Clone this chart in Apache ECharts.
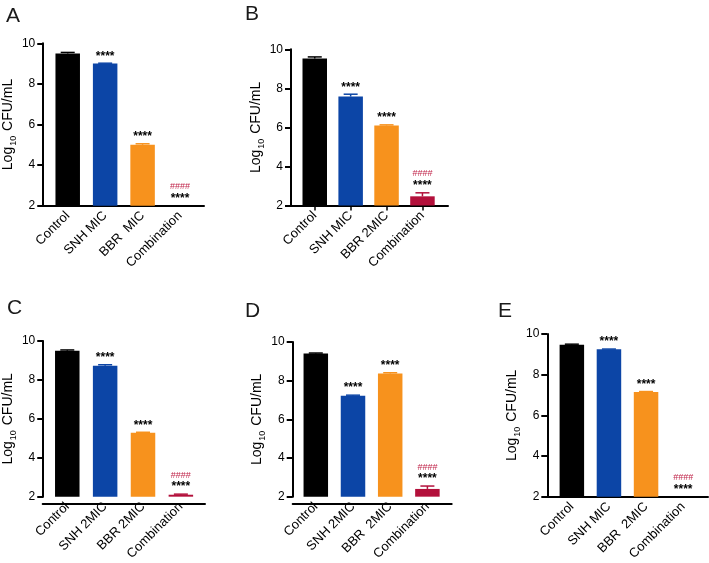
<!DOCTYPE html>
<html>
<head>
<meta charset="utf-8">
<script src="https://cdn.jsdelivr.net/npm/echarts@6/dist/echarts.min.js"></script>
<style>html,body{margin:0;padding:0;background:#fff}#c{width:709px;height:563px}</style>
</head>
<body>
<div id="c"></div>
<script>
// ---- data ----
const catsA = ['Control', 'SNH MIC', 'BBR  MIC', 'Combination'];
const catsB = ['Control', 'SNH MIC', 'BBR 2MIC', 'Combination'];
const catsC = ['Control', 'SNH 2MIC', 'BBR 2MIC', 'Combination'];
const catsD = ['Control', 'SNH 2MIC', 'BBR  2MIC', 'Combination'];
const catsE = ['Control', 'SNH MIC', 'BBR  2MIC', 'Combination'];

const meanA = [9.5, 9.0, 5.0, 2.0];
const errA  = [0.05, 0.02, 0.05, 0];
const meanB = [9.53, 7.58, 6.1, 2.47];
const errB  = [0.08, 0.12, 0.03, 0.18];
const meanC = [9.5, 8.73, 5.28, 2.1];
const errC  = [0.04, 0.05, 0.03, 0.03];
const meanD = [9.4, 7.22, 8.37, 2.4];
const errD  = [0.03, 0.03, 0.04, 0.15];
const meanE = [9.47, 9.25, 7.15, 2.0];
const errE  = [0.03, 0.01, 0.02, 0];

const stars  = ['', '****', '****', '****'];
const hashes = ['', '', '', '####'];
const yTicks = [2, 4, 6, 8, 10];
const panelLetters = ['A', 'B', 'C', 'D', 'E'];

// ---- styling / layout ----
const colors = ['#000000', '#0c45a6', '#f7921d', '#b3103b'];
const FONT = 'Liberation Sans, Arial, Helvetica, sans-serif';

const layouts = [
  {axisX: 43,    top: 43.3, bottom: 205.7, band: 48.75, step: 37.5, end: 204,   ticks: false, lx: 1,   ly: 1},
  {axisX: 291,   top: 49.3, bottom: 205.5, band: 296.8, step: 35.9, end: 448,   ticks: true,  lx: 240, ly: -1},
  {axisX: 42.7,  top: 341,  bottom: 504,   band: 47.8,  step: 38,   end: 205,   ticks: false, lx: 2,   ly: 293},
  {axisX: 292.7, top: 342,  bottom: 503.7, band: 297.2, step: 37.2, end: 451.7, ticks: false, lx: 240, ly: 296},
  {axisX: 547.3, top: 334,  bottom: 496.7, band: 553.3, step: 37.1, end: 708,   ticks: false, lx: 493, ly: 296}
];
const panelData = [
  [catsA, meanA, errA], [catsB, meanB, errB], [catsC, meanC, errC],
  [catsD, meanD, errD], [catsE, meanE, errE]
];

const grid = [], xAxis = [], yAxis = [], series = [], title = [];

layouts.forEach((L, p) => {
  const [cats, mean, err] = panelData[p];
  const h = L.bottom - L.top;
  const gBar = grid.length;
  grid.push({left: L.band, top: L.top, width: L.step * 4, height: h});
  const gLine = grid.length;
  grid.push({left: L.axisX, top: L.top, width: L.end - L.axisX, height: h});

  title.push({text: panelLetters[p], left: L.lx, top: L.ly,
    textStyle: {fontSize: 21, fontWeight: 'normal', color: '#1a1a1a', fontFamily: FONT}});

  const xBar = xAxis.length;
  xAxis.push({
    type: 'category', gridIndex: gBar, data: cats,
    axisLine: {show: false},
    axisTick: {show: L.ticks, alignWithLabel: true, length: 5, lineStyle: {color: '#000', width: 1.5}},
    axisLabel: {rotate: 45, margin: 8, interval: 0, color: '#000', fontSize: 13, fontFamily: FONT}
  });
  const xLine = xAxis.length;
  xAxis.push({
    type: 'value', gridIndex: gLine, min: 0, max: 1,
    axisLine: {show: true, lineStyle: {color: '#000', width: 2}},
    axisTick: {show: false}, axisLabel: {show: false}, splitLine: {show: false}
  });
  const yBar = yAxis.length;
  yAxis.push({
    type: 'value', gridIndex: gBar, min: yTicks[0], max: yTicks[yTicks.length - 1], interval: 2,
    offset: L.band - L.axisX,
    axisLine: {show: true, lineStyle: {color: '#000', width: 2}},
    axisTick: {show: true, length: 6, lineStyle: {color: '#000', width: 2}},
    axisLabel: {margin: 8, color: '#000', fontSize: 12, fontFamily: FONT},
    splitLine: {show: false},
    name: '{a|Log}{s|10}{a| CFU/mL}', nameLocation: 'middle', nameGap: 26,
    nameTextStyle: {
      rich: {
        a: {fontSize: 14, color: '#000', fontFamily: FONT, lineHeight: 16, verticalAlign: 'bottom'},
        s: {fontSize: 9, color: '#000', fontFamily: FONT, lineHeight: 9, verticalAlign: 'bottom', padding: [0, 1, -3, 1]}
      }
    }
  });
  const yLine = yAxis.length;
  yAxis.push({type: 'value', gridIndex: gLine, min: 0, max: 1, show: false});

  series.push({
    type: 'bar', xAxisIndex: xBar, yAxisIndex: yBar, barWidth: 24.5,
    data: mean.map((v, i) => ({value: v, itemStyle: {color: colors[i]}})),
    silent: true, animation: false
  });
  series.push({
    type: 'custom', xAxisIndex: xBar, yAxisIndex: yBar, clip: false, animation: false, silent: true,
    encode: {x: 0, y: 1},
    data: mean.map((v, i) => [i, v, err[i]]),
    renderItem: function (params, api) {
      const i = api.value(0), m = api.value(1), e = api.value(2);
      const base = api.coord([i, m]);
      const top = api.coord([i, m + e]);
      const children = [];
      if (e > 0) {
        children.push({type: 'line', shape: {x1: top[0], y1: base[1], x2: top[0], y2: top[1]},
          style: {stroke: colors[i], lineWidth: 1.5}});
        children.push({type: 'line', shape: {x1: top[0] - 7, y1: top[1], x2: top[0] + 7, y2: top[1]},
          style: {stroke: colors[i], lineWidth: 1.5}});
      }
      if (stars[i]) {
        children.push({type: 'text', x: top[0], y: top[1] - 7,
          style: {text: stars[i], fill: '#000', font: 'bold 12px ' + FONT, align: 'center', verticalAlign: 'middle'}});
      }
      if (hashes[i]) {
        children.push({type: 'text', x: top[0], y: top[1] - 19,
          style: {text: hashes[i], fill: '#c0254a', font: '9px ' + FONT, align: 'center', verticalAlign: 'middle'}});
      }
      return {type: 'group', children: children};
    }
  });
});

const chart = echarts.init(document.getElementById('c'), null, {renderer: 'canvas'});
chart.setOption({backgroundColor: '#fff', animation: false, title, grid, xAxis, yAxis, series});
</script>
</body>
</html>
